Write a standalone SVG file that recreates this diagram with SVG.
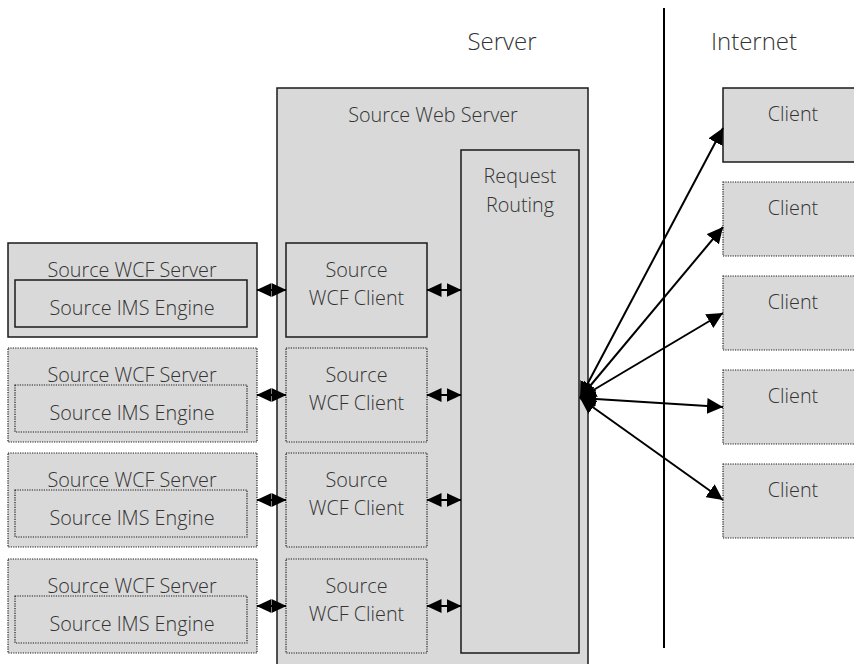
<svg xmlns="http://www.w3.org/2000/svg" width="854" height="664" viewBox="0 0 854 664">
<style>
.box{fill:#d9d9d9;stroke:#1a1a1a;stroke-width:1.5}
.dot{fill:#d9d9d9;stroke:#1a1a1a;stroke-width:1.2;stroke-dasharray:1.2 1.2}
.t{font-family:"Open Sans","Noto Sans",sans-serif;font-weight:300;font-size:19.8px;fill:#333;text-anchor:middle}
.h{font-size:24px}
.c{stroke:#000;stroke-width:2;fill:none}
</style>
<defs>
<marker id="a" markerUnits="userSpaceOnUse" markerWidth="15" markerHeight="14" refX="14.5" refY="7" orient="auto-start-reverse"><path d="M0,0 L15,7 L0,14 z" fill="#000"/></marker>
<marker id="b" markerUnits="userSpaceOnUse" markerWidth="16" markerHeight="16" refX="16" refY="8" orient="auto-start-reverse"><path d="M0,0 L16,8 L0,16 z" fill="#000"/></marker>
</defs>
<line x1="664" y1="8" x2="664" y2="648" stroke="#000" stroke-width="2"/>
<text class="t h" x="502" y="50">Server</text>
<text class="t h" x="754" y="50">Internet</text>
<g id="web-server">
<rect class="box" x="277" y="88" width="311" height="600"/>
<text class="t" x="433" y="122">Source Web Server</text>
</g>
<g id="request-routing">
<rect class="box" x="461" y="150" width="118" height="503"/>
<text class="t" x="520" y="183">Request</text>
<text class="t" x="520" y="212">Routing</text>
</g>
<g id="wcf-server-1">
<rect class="box" x="8" y="243" width="249" height="94"/>
<text class="t" x="132" y="277">Source WCF Server</text>
<rect class="box" x="15" y="280" width="232" height="47"/>
<text class="t" x="132" y="315">Source IMS Engine</text>
</g>
<g id="wcf-server-2">
<rect class="dot" x="8" y="348" width="249" height="94"/>
<text class="t" x="132" y="382">Source WCF Server</text>
<rect class="dot" x="15" y="385" width="232" height="47"/>
<text class="t" x="132" y="420">Source IMS Engine</text>
</g>
<g id="wcf-server-3">
<rect class="dot" x="8" y="453" width="249" height="94"/>
<text class="t" x="132" y="487">Source WCF Server</text>
<rect class="dot" x="15" y="490" width="232" height="47"/>
<text class="t" x="132" y="525">Source IMS Engine</text>
</g>
<g id="wcf-server-4">
<rect class="dot" x="8" y="559" width="249" height="94"/>
<text class="t" x="132" y="593">Source WCF Server</text>
<rect class="dot" x="15" y="596" width="232" height="47"/>
<text class="t" x="132" y="631">Source IMS Engine</text>
</g>
<g id="wcf-client-1">
<rect class="box" x="286" y="243" width="141" height="94"/>
<text class="t" x="356.5" y="277">Source</text>
<text class="t" x="356.5" y="305">WCF Client</text>
</g>
<g id="wcf-client-2">
<rect class="dot" x="286" y="348" width="141" height="94"/>
<text class="t" x="356.5" y="382">Source</text>
<text class="t" x="356.5" y="410">WCF Client</text>
</g>
<g id="wcf-client-3">
<rect class="dot" x="286" y="453" width="141" height="94"/>
<text class="t" x="356.5" y="487">Source</text>
<text class="t" x="356.5" y="515">WCF Client</text>
</g>
<g id="wcf-client-4">
<rect class="dot" x="286" y="559" width="141" height="94"/>
<text class="t" x="356.5" y="593">Source</text>
<text class="t" x="356.5" y="621">WCF Client</text>
</g>
<g id="client-1">
<rect class="box" x="723" y="88" width="140" height="74"/>
<text class="t" x="793" y="121">Client</text>
</g>
<g id="client-2">
<rect class="dot" x="723" y="182" width="140" height="74"/>
<text class="t" x="793" y="215">Client</text>
</g>
<g id="client-3">
<rect class="dot" x="723" y="276" width="140" height="74"/>
<text class="t" x="793" y="309">Client</text>
</g>
<g id="client-4">
<rect class="dot" x="723" y="370" width="140" height="74"/>
<text class="t" x="793" y="403">Client</text>
</g>
<g id="client-5">
<rect class="dot" x="723" y="464" width="140" height="74"/>
<text class="t" x="793" y="497">Client</text>
</g>
<g id="connectors">
<line class="c" x1="257" y1="290" x2="286" y2="290" marker-start="url(#a)" marker-end="url(#a)"/>
<line class="c" x1="257" y1="395" x2="286" y2="395" marker-start="url(#a)" marker-end="url(#a)"/>
<line class="c" x1="257" y1="500" x2="286" y2="500" marker-start="url(#a)" marker-end="url(#a)"/>
<line class="c" x1="257" y1="606" x2="286" y2="606" marker-start="url(#a)" marker-end="url(#a)"/>
<line class="c" x1="427" y1="290" x2="461" y2="290" marker-start="url(#a)" marker-end="url(#a)"/>
<line class="c" x1="427" y1="395" x2="461" y2="395" marker-start="url(#a)" marker-end="url(#a)"/>
<line class="c" x1="427" y1="500" x2="461" y2="500" marker-start="url(#a)" marker-end="url(#a)"/>
<line class="c" x1="427" y1="606" x2="461" y2="606" marker-start="url(#a)" marker-end="url(#a)"/>
<line class="c" x1="580" y1="398" x2="723" y2="128" marker-start="url(#b)" marker-end="url(#b)"/>
<line class="c" x1="580" y1="398" x2="723" y2="227" marker-start="url(#b)" marker-end="url(#b)"/>
<line class="c" x1="580" y1="398" x2="723" y2="313" marker-start="url(#b)" marker-end="url(#b)"/>
<line class="c" x1="580" y1="398" x2="723" y2="407" marker-start="url(#b)" marker-end="url(#b)"/>
<line class="c" x1="580" y1="398" x2="723" y2="500" marker-start="url(#b)" marker-end="url(#b)"/>
</g>
</svg>
